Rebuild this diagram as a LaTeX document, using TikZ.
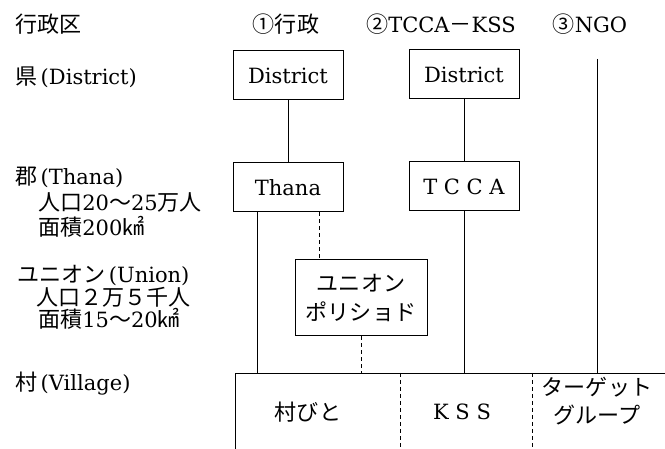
\documentclass[tikz,border=0pt]{standalone}
\usepackage{fontspec}
\setmainfont{DejaVu Serif}
\newfontfamily\cjk[Scale=1.05]{Noto Sans CJK JP}
\usetikzlibrary{positioning}

\begin{document}
\begin{tikzpicture}[
  x=1pt, y=-1pt,
  every node/.style={font=\fontsize{21}{28}\selectfont},
  lvl/.style={anchor=base west, inner sep=0pt},
  head/.style={anchor=base, inner sep=0pt},
  orgbox/.style={draw, line width=1pt, minimum width=110pt, minimum height=49pt,
                 inner sep=0pt, align=center},
  unionbox/.style={orgbox, minimum width=132pt, minimum height=76pt},
  cell/.style={inner sep=0pt, align=center},
  link/.style={line width=1pt},
  dlink/.style={line width=1pt, dash pattern=on 4pt off 3pt},
]
\useasboundingbox (0,0) rectangle (665,449);
\clip (0,0) rectangle (665,449);

% 見出し
\node[lvl] (hdr) at (15,33) {{\cjk 行政区}};
\node[head] (h1) at (286,33) {{\cjk ①行政}};
\node[head] (h2) at (441,33) {{\cjk ②}TCCA{\cjk －}KSS};
\node[head] (h3) at (590,33) {{\cjk ③}NGO};

% 行政区のレベル (左)
\node[lvl] (lv1) at (15,85) {{\cjk 県}\,(District)};
\node[lvl] (lv2) at (15,185) {{\cjk 郡}\,(Thana)};
\node[lvl] (lv2a) at (38,211) {{\cjk 人口}20{\cjk 〜}25{\cjk 万人}};
\node[lvl] (lv2b) at (38,236) {{\cjk 面積}200{\cjk ㎢}};
\node[lvl] (lv3) at (17,283) {{\cjk ユニオン}\,(Union)};
\node[lvl] (lv3a) at (36,306) {{\cjk 人口２万５千人}};
\node[lvl] (lv3b) at (38,328) {{\cjk 面積}15{\cjk 〜}20{\cjk ㎢}};
\node[lvl] (lv4) at (15,391) {{\cjk 村}\,(Village)};

% 組織
\node[orgbox] (distA) at (288,75.5) {District};
\node[orgbox] (distB) at (464,74.5) {District};
\node[orgbox, below=62pt of distA] (thana) {Thana};
\node[orgbox, below=62pt of distB] (tcca) {T C C A};
\node[unionbox] (union) at (361,298) {{\cjk ユニオン}\\[1pt]{\cjk ポリショド}};

% 村
\node[draw, line width=1pt, anchor=north west, minimum width=500pt,
      minimum height=100pt] (village) at (235,373) {};
\draw[dlink] ([xshift=165pt]village.north west) -- ([xshift=165pt]village.south west);
\draw[dlink] ([xshift=297pt]village.north west) -- ([xshift=297pt]village.south west);
\node[cell] (vil1) at (308,412) {{\cjk 村びと}};
\node[cell] (vil2) at (462,412) {K S S};
\node[cell] (vil3) at (597,401) {{\cjk ターゲット}\\{\cjk グループ}};

% 縦線
\coordinate (ngo) at (597,59);
\coordinate (thL) at ([xshift=-31pt]thana.south);
\coordinate (thR) at ([xshift=31pt]thana.south);
\draw[link] (distA.south) -- (thana.north);
\draw[link] (distB.south) -- (tcca.north);
\draw[link] (ngo) -- (ngo |- village.north);
\draw[link] (thL) -- (thL |- village.north);
\draw[dlink] (thR) -- (thR |- union.north);
\draw[dlink] (union.south) -- (union.south |- village.north);
\draw[link] (tcca.south) -- (tcca.south |- village.north);

\end{tikzpicture}
\end{document}
